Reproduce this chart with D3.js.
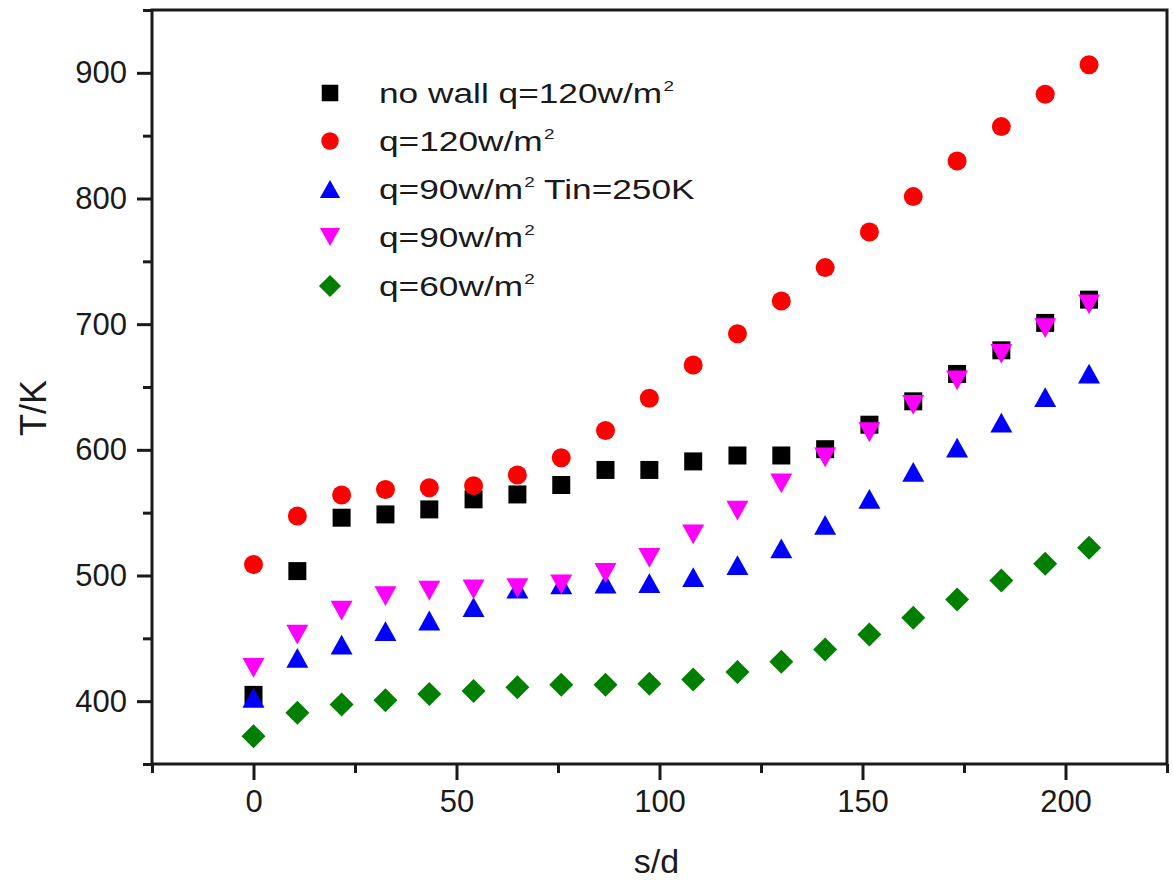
<!DOCTYPE html>
<html>
<head>
<meta charset="utf-8">
<script src="https://cdn.jsdelivr.net/npm/d3@7"></script>
<style>
  body { margin: 0; background: #fff; }
  text { font-family: "Liberation Sans", Arial, sans-serif; fill: #1a1a1a; }
</style>
</head>
<body>
<svg id="chart" width="1173" height="880"></svg>
<script>
// Position along the channel, s/d
const sd = [0, 10.8, 21.7, 32.5, 43.3, 54.2, 65, 75.8, 86.7, 97.5,
            108.3, 119.2, 130, 140.8, 151.7, 162.5, 173.3, 184.2, 195, 205.8];

// Temperature T (K) for each case
const noWallQ120 = [405, 503.5, 546, 548.6, 552.6, 560.6, 564.5, 572, 584, 584,
                    590.8, 595.5, 595.5, 600.5, 620, 638.6, 660.4, 679.2, 701, 719.5];
const q120 = [508.8, 547.3, 564, 568.5, 569.8, 571.5, 580, 593.7, 615.4, 641,
              667.5, 692.4, 718.5, 745, 773.4, 801.5, 829.9, 857.2, 883, 906.4];
const q90Tin250 = [402.7, 434.5, 445, 455.7, 464.2, 474.8, 489.5, 493, 493.5, 494,
                   498.7, 508.3, 521.6, 540.3, 561, 582.5, 601.7, 621.6, 642, 660.6];
const q90 = [426.5, 453, 472, 483.6, 488, 489, 490, 493, 502, 514.1,
             532.7, 551.7, 573.3, 594, 614, 635.7, 655.3, 676.3, 696.8, 715.8];
const q60 = [372, 390.7, 397.3, 400.8, 405.8, 408, 411, 413, 413, 413.8,
             417.3, 423.3, 431.3, 441.2, 453.1, 466.3, 481, 496, 509.3, 522];

// Legend labels: text before the superscript, the superscript, text after it
const legendMain = ["no wall q=120w/m", "q=120w/m", "q=90w/m", "q=90w/m", "q=60w/m"];
const legendSup = ["2", "2", "2", "2", "2"];
const legendPost = ["", "", " Tin=250K", "", ""];

// Axis ticks
const xMajorTicks = [0, 50, 100, 150, 200];
const xMinorTicks = [-25, 25, 75, 125, 175, 225];
const yMajorTicks = [400, 500, 600, 700, 800, 900];
const yMinorTicks = [350, 450, 550, 650, 750, 850, 950];

const xTitle = "s/d";
const yTitle = "T/K";

// ---- layout ----
const plotLeft = 152, plotRight = 1167, plotTop = 10, plotBottom = 764;
const svg = d3.select("#chart");

const x = d3.scaleLinear().domain([-25, 225]).range([plotLeft, plotRight]);
const y = d3.scaleLinear().domain([350, 950]).range([plotBottom, plotTop]);

// marker shapes (centred on their bounding box)
const shapes = {
  square: s => `M${-s/2},${-s/2}h${s}v${s}h${-s}Z`,
  circle: s => d3.symbol(d3.symbolCircle, Math.PI * (s/2) * (s/2))(),
  up: s => `M0,${-s*0.45}L${s*0.5},${s*0.45}L${-s*0.5},${s*0.45}Z`,
  down: s => `M0,${s*0.45}L${s*0.5},${-s*0.45}L${-s*0.5},${-s*0.45}Z`,
  diamond: s => `M0,${-s/2}L${s/2},0L0,${s/2}L${-s/2},0Z`
};

const series = [
  { values: noWallQ120, color: "#000000", shape: "square", size: 18 },
  { values: q120,       color: "#ff0000", shape: "circle", size: 19 },
  { values: q90Tin250,  color: "#0000ff", shape: "up",     size: 22 },
  { values: q90,        color: "#ff00ff", shape: "down",   size: 22 },
  { values: q60,        color: "#007f00", shape: "diamond", size: 24 }
];

// ---- axes ----
const axisStyle = g => {
  g.selectAll("path.domain").remove();
  g.selectAll("line").attr("stroke", "#1a1a1a").attr("stroke-width", 3);
  g.selectAll("text").style("font-size", "31px").attr("fill", "#1a1a1a");
};

svg.append("g")
  .attr("transform", `translate(0,${plotBottom})`)
  .call(d3.axisBottom(x).tickValues(xMajorTicks).tickSize(16).tickSizeOuter(0).tickPadding(10).tickFormat(d3.format("d")))
  .call(axisStyle);
svg.append("g")
  .attr("transform", `translate(0,${plotBottom})`)
  .call(d3.axisBottom(x).tickValues(xMinorTicks).tickSize(9).tickSizeOuter(0).tickFormat(""))
  .call(axisStyle);

svg.append("g")
  .attr("transform", `translate(${plotLeft},0)`)
  .call(d3.axisLeft(y).tickValues(yMajorTicks).tickSize(15).tickSizeOuter(0).tickPadding(10).tickFormat(d3.format("d")))
  .call(axisStyle);
svg.append("g")
  .attr("transform", `translate(${plotLeft},0)`)
  .call(d3.axisLeft(y).tickValues(yMinorTicks).tickSize(9).tickSizeOuter(0).tickFormat(""))
  .call(axisStyle);

// frame
svg.append("rect")
  .attr("x", plotLeft).attr("y", plotTop)
  .attr("width", plotRight - plotLeft).attr("height", plotBottom - plotTop)
  .attr("fill", "none").attr("stroke", "#1a1a1a").attr("stroke-width", 3);

// axis titles
svg.append("text")
  .attr("x", (plotLeft + plotRight) / 2 - 3).attr("y", 873)
  .attr("text-anchor", "middle")
  .style("font-size", "34px")
  .text(xTitle);

svg.append("text")
  .attr("transform", `translate(46,408) rotate(-90)`)
  .attr("text-anchor", "middle")
  .style("font-size", "36px")
  .text(yTitle);

// ---- data points ----
series.forEach(s => {
  svg.append("g")
    .selectAll("path")
    .data(s.values.map((v, i) => [sd[i], v]))
    .join("path")
    .attr("d", shapes[s.shape](s.size))
    .attr("transform", d => `translate(${x(d[0])},${y(d[1])})`)
    .attr("fill", s.color);
});

// ---- legend ----
const legend = svg.append("g");
const rowY = [93, 141, 189, 237, 286];
series.forEach((s, i) => {
  legend.append("path")
    .attr("d", shapes[s.shape](s.size * 0.92))
    .attr("transform", `translate(330,${rowY[i]})`)
    .attr("fill", s.color);

  const t = legend.append("text")
    .attr("transform", `translate(379,${rowY[i] + 10}) scale(1.26,1)`)
    .style("font-size", "28px");
  t.append("tspan").text(legendMain[i]);
  t.append("tspan").attr("dx", 1).attr("dy", -12).style("font-size", "15px").text(legendSup[i]);
  if (legendPost[i]) {
    t.append("tspan").attr("dy", 12).text(legendPost[i]);
  }
});
</script>
</body>
</html>
